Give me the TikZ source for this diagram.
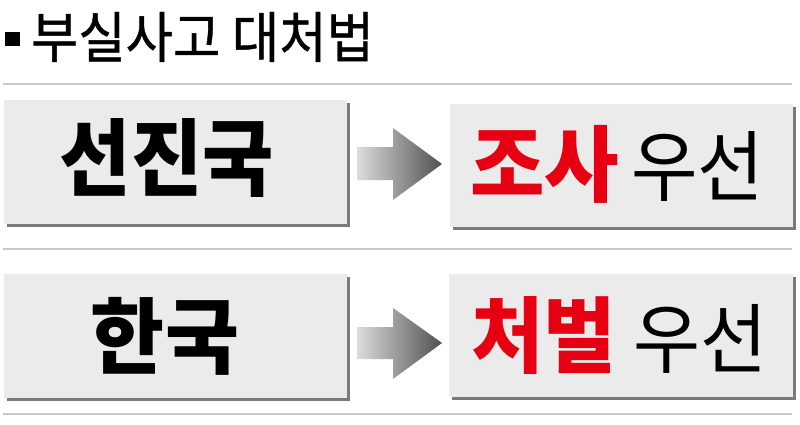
\documentclass[tikz,border=0pt]{standalone}
\usepackage{fontspec}
\usepackage{graphicx}
\newfontfamily\kr{Noto Sans CJK KR}
\newfontfamily\krm{Noto Sans CJK KR}[FakeBold=0.8]
\definecolor{boxfill}{HTML}{EBEBEB}
\definecolor{shadowc}{HTML}{7A7A7A}
\definecolor{rulec}{HTML}{C8C8C8}
\definecolor{redc}{HTML}{E60012}
\definecolor{arrl}{HTML}{DCDCDC}
\definecolor{arrr}{HTML}{505050}
\newcommand{\fitbox}[3]{\resizebox*{#1pt}{#2pt}{#3}}
\tikzset{
  shadowbox/.style={fill=shadowc},
  rulel/.style={draw=rulec, line width=1.2pt},
  txt/.style={inner sep=0pt, outer sep=0pt},
  arrowshade/.style={left color=arrl, right color=arrr, draw=none},
}
\begin{document}
\begin{tikzpicture}[x=1pt,y=-1pt]
\useasboundingbox (0,0) rectangle (800,425);
\fill[white] (0,0) rectangle (800,425);
% title
\fill (5,32) rectangle (20,46.5);
\node[txt] (title) at (202.5,37) {\fitbox{343}{50}{\krm\fontsize{55}{55}\selectfont 부실사고 대처법}};
% rules
\coordinate (r1a) at (3,84); \coordinate (r1b) at (792,84);
\coordinate (r2a) at (3,249); \coordinate (r2b) at (792,249);
\coordinate (r3a) at (3,414); \coordinate (r3b) at (792,414);
\draw[rulel] (r1a) -- (r1b);
\draw[rulel] (r2a) -- (r2b);
\draw[rulel] (r3a) -- (r3b);
% row 1
\fill[shadowbox] (7,103) rectangle (349.5,226.5);
\fill[boxfill] (4,100) rectangle (347,224);
\node[txt] (adv) at (167,157.5) {\fitbox{214}{79}{\kr\bfseries\fontsize{90}{90}\selectfont 선진국}};
\fill[shadowbox] (453,107) rectangle (795.5,229.5);
\fill[boxfill] (450,104) rectangle (792.5,227);
\node[txt] (res1a) at (544.5,164) {\fitbox{149}{78}{\color{redc}\kr\bfseries\fontsize{90}{90}\selectfont 조사}};
\node[txt] (res1b) at (697.5,167) {\fitbox{133}{70}{\kr\fontsize{80}{80}\selectfont 우선}};
\shade[arrowshade] (357,147) -- (393,147) -- (393,128) -- (442,164) -- (393,200) -- (393,180) -- (357,180) -- cycle;
% row 2
\fill[shadowbox] (7,277) rectangle (349.5,400.5);
\fill[boxfill] (4,274) rectangle (347,398);
\node[txt] (kor) at (165,336) {\fitbox{148}{78}{\kr\bfseries\fontsize{90}{90}\selectfont 한국}};
\fill[shadowbox] (452,277) rectangle (795.5,399.5);
\fill[boxfill] (449,274) rectangle (792.5,397);
\node[txt] (res2a) at (543.5,336) {\fitbox{145}{78}{\color{redc}\kr\bfseries\fontsize{90}{90}\selectfont 처벌}};
\node[txt] (res2b) at (700,338.5) {\fitbox{134}{69}{\kr\fontsize{80}{80}\selectfont 우선}};
\shade[arrowshade] (357,327) -- (393,327) -- (393,308) -- (442,343) -- (393,379) -- (393,359) -- (357,359) -- cycle;
\end{tikzpicture}
\end{document}
